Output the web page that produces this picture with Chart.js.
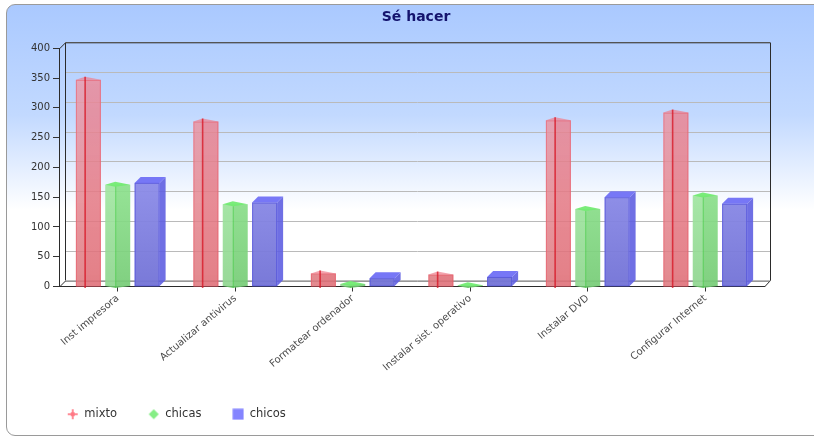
<!DOCTYPE html>
<html>
<head>
<meta charset="utf-8">
<script src="https://cdn.jsdelivr.net/npm/chart.js@4.4.1/dist/chart.umd.min.js"></script>
<style>
  html, body { margin: 0; padding: 0; background: #ffffff; overflow: hidden; }
  #wrap { position: relative; width: 814px; height: 437px; overflow: hidden; }
  #panel {
    position: absolute; left: 6px; top: 4px; width: 860px; height: 430px;
    border: 1px solid #9a9a9a; border-radius: 9px;
    background: linear-gradient(to bottom, #aac9ff 0px, #c2d9ff 110px, #ffffff 205px, #ffffff 100%);
  }
  canvas { position: absolute; left: 0; top: 0; }
</style>
</head>
<body>
<div id="wrap">
  <div id="panel"></div>
  <canvas id="chart" width="832" height="437"></canvas>
</div>
<script>
// Survey results: "Sé hacer" (things I know how to do)
const categories = [
  'Inst impresora',
  'Actualizar antivirus',
  'Formatear ordenador',
  'Instalar sist. operativo',
  'Instalar DVD',
  'Configurar Internet'
];
const mixto  = [347, 277, 22, 20, 279, 292];
const chicas = [171, 138, 4, 2, 130, 153];
const chicos = [174, 141, 14, 16, 150, 139];
const seriesNames = ['mixto', 'chicas', 'chicos'];
const yMin = 0, yMax = 400, yStep = 50;

// Styling
const DEPTH = 6;               // pseudo-3D depth offset in px
const FONT = 'DejaVu Sans';
const TITLE_SHIFT = 30;        // title is centred on the full panel width
const LEGEND_SHIFT = 28;       // legend indent from the left edge

// Small legend symbols drawn once onto offscreen canvases
function makeMarker(kind, color) {
  const c = document.createElement('canvas');
  c.width = 12; c.height = 12;
  const g = c.getContext('2d');
  g.fillStyle = color;
  if (kind === 'cross') {
    g.fillRect(1, 5, 10, 2);
    g.fillRect(5, 1, 2, 10);
    g.fillRect(4, 4, 4, 4);
  } else if (kind === 'diamond') {
    g.beginPath();
    g.moveTo(6, 1); g.lineTo(11, 6); g.lineTo(6, 11); g.lineTo(1, 6);
    g.closePath(); g.fill();
  } else {
    g.fillRect(0.5, 0.5, 11, 11);
  }
  return c;
}
const legendMarkers = [
  makeMarker('cross', 'rgba(255,120,132,0.85)'),
  makeMarker('diamond', 'rgb(134,238,134)'),
  makeMarker('square', 'rgb(132,132,255)')
];

function vGrad(top, bottom) {
  return (ctx) => {
    const area = ctx.chart.chartArea;
    if (!area) return bottom;
    const g = ctx.chart.ctx.createLinearGradient(0, area.top, 0, area.bottom);
    g.addColorStop(0, top);
    g.addColorStop(1, bottom);
    return g;
  };
}

// Shift title and legend horizontally after the layout pass
const placeBlocks = {
  id: 'placeBlocks',
  afterLayout(chart) {
    if (chart.titleBlock) { chart.titleBlock.left += TITLE_SHIFT; chart.titleBlock.right += TITLE_SHIFT; }
    if (chart.legend) { chart.legend.left += LEGEND_SHIFT; chart.legend.right += LEGEND_SHIFT; }
  }
};

// Back wall, floor edges and gridlines drawn behind the bars
const frame3d = {
  id: 'frame3d',
  beforeDatasetsDraw(chart) {
    const { ctx, chartArea: a, scales: { y } } = chart;
    const L = a.left, R = a.right, T = a.top, B = a.bottom, d = DEPTH;
    ctx.save();
    ctx.lineWidth = 1;
    ctx.strokeStyle = '#bababa';
    y.ticks.forEach(t => {
      const py = Math.round(y.getPixelForValue(t.value) - d) + 0.5;
      ctx.beginPath();
      ctx.moveTo(L + d, py);
      ctx.lineTo(R + d, py);
      ctx.stroke();
    });
    ctx.strokeStyle = '#2b2b2b';
    ctx.beginPath();
    ctx.moveTo(L + d + 0.5, B - d);
    ctx.lineTo(L + d + 0.5, T - d + 0.5);
    ctx.lineTo(R + d + 0.5, T - d + 0.5);
    ctx.lineTo(R + d + 0.5, B - d);
    ctx.lineTo(R + 0.5, B + 0.5);
    ctx.moveTo(L + 0.5, T + 0.5);
    ctx.lineTo(L + d + 0.5, T - d + 0.5);
    ctx.moveTo(L + 0.5, B + 0.5);
    ctx.lineTo(L + d + 0.5, B - d + 0.5);
    ctx.stroke();
    ctx.strokeStyle = '#777777';
    ctx.beginPath();
    ctx.moveTo(L + d, B - d + 0.5);
    ctx.lineTo(R + d, B - d + 0.5);
    ctx.stroke();
    ctx.restore();
  }
};

// Extra faces that give each bar its solid look
const barFaces = {
  id: 'barFaces',
  afterDatasetsDraw(chart) {
    const { ctx } = chart;
    const d = DEPTH;
    ctx.save();
    chart.data.datasets.forEach((ds, di) => {
      const meta = chart.getDatasetMeta(di);
      meta.data.forEach(el => {
        const { x, y, base, width } = el.getProps(['x', 'y', 'base', 'width'], true);
        const l = x - width / 2, r = x + width / 2;
        if (di === 0) {
          const m = l + width * 0.37;
          ctx.fillStyle = 'rgba(230,70,85,0.15)';
          ctx.fillRect(m, y, r - m, base - y);
          ctx.fillStyle = 'rgba(240,125,140,0.7)';
          ctx.beginPath();
          ctx.moveTo(l, y); ctx.lineTo(m, y - 3); ctx.lineTo(r, y); ctx.closePath();
          ctx.fill();
          ctx.strokeStyle = 'rgba(235,80,95,0.5)';
          ctx.lineWidth = 1;
          ctx.strokeRect(l + 0.5, y + 0.5, width - 1, base - y);
          ctx.strokeStyle = 'rgba(215,25,40,0.8)';
          ctx.lineWidth = 1.6;
          ctx.beginPath();
          ctx.moveTo(m, y - 3); ctx.lineTo(m, base + 2);
          ctx.stroke();
        } else if (di === 1) {
          const m = l + width * 0.4;
          ctx.fillStyle = 'rgba(255,255,255,0.18)';
          ctx.fillRect(l, y, m - l, base - y);
          ctx.fillStyle = 'rgba(115,235,115,0.95)';
          ctx.beginPath();
          ctx.moveTo(l, y); ctx.lineTo(m, y - 3); ctx.lineTo(r, y); ctx.lineTo(m, y + 2); ctx.closePath();
          ctx.fill();
          ctx.fillStyle = 'rgba(110,200,110,0.9)';
          ctx.beginPath();
          ctx.moveTo(l, base); ctx.lineTo(m, base + 2); ctx.lineTo(r, base); ctx.closePath();
          ctx.fill();
          ctx.strokeStyle = 'rgba(70,205,70,0.6)';
          ctx.lineWidth = 1;
          ctx.beginPath();
          ctx.moveTo(m + 0.5, y + 2); ctx.lineTo(m + 0.5, base + 2);
          ctx.stroke();
        } else {
          ctx.fillStyle = 'rgba(95,95,225,0.9)';
          ctx.beginPath();
          ctx.moveTo(r, y); ctx.lineTo(r + d, y - d); ctx.lineTo(r + d, base - d); ctx.lineTo(r, base); ctx.closePath();
          ctx.fill();
          ctx.fillStyle = 'rgba(112,112,245,0.95)';
          ctx.beginPath();
          ctx.moveTo(l, y); ctx.lineTo(l + d, y - d); ctx.lineTo(r + d, y - d); ctx.lineTo(r, y); ctx.closePath();
          ctx.fill();
          ctx.strokeStyle = 'rgba(80,80,220,0.7)';
          ctx.lineWidth = 1;
          ctx.strokeRect(l + 0.5, y + 0.5, width - 1, base - y - 0.5);
        }
      });
    });
    ctx.restore();
  }
};

const chart = new Chart(document.getElementById('chart'), {
  type: 'bar',
  data: {
    labels: categories,
    datasets: [
      { label: seriesNames[0], data: mixto,  backgroundColor: vGrad('rgba(238,160,176,0.82)', 'rgba(222,118,124,0.86)') },
      { label: seriesNames[1], data: chicas, backgroundColor: vGrad('rgba(170,252,170,0.92)', 'rgba(118,204,118,0.92)') },
      { label: seriesNames[2], data: chicos, backgroundColor: vGrad('rgba(172,172,255,0.95)', 'rgba(114,114,214,0.95)') }
    ]
  },
  options: {
    responsive: false,
    animation: false,
    categoryPercentage: 0.75,
    barPercentage: 0.85,
    borderWidth: 0,
    layout: { padding: { left: 8, right: 68, top: 0, bottom: 7 } },
    plugins: {
      title: {
        display: true,
        text: 'Sé hacer',
        color: '#14146e',
        font: { family: FONT, size: 14, weight: 'bold' },
        padding: { top: 9, bottom: 22.5 }
      },
      legend: {
        position: 'bottom',
        align: 'start',
        labels: {
          usePointStyle: true,
          color: '#333333',
          padding: 31,
          font: { family: FONT, size: 11.5 },
          generateLabels(c) {
            const items = Chart.defaults.plugins.legend.labels.generateLabels(c);
            items.forEach((it, i) => {
              it.pointStyle = legendMarkers[i];
              it.lineWidth = 0;
            });
            return items;
          }
        }
      },
      tooltip: { enabled: false }
    },
    scales: {
      x: {
        grid: { display: true, drawOnChartArea: false, offset: false, tickLength: 5, color: '#333333' },
        border: { display: true, color: '#2b2b2b' },
        ticks: {
          autoSkip: false, maxRotation: 40, minRotation: 40, padding: 1,
          color: '#4a4a4a', font: { family: FONT, size: 10 }
        },
        afterFit(scale) { scale.height = 91; }
      },
      y: {
        min: yMin, max: yMax,
        grid: { display: true, drawOnChartArea: false, tickLength: 6, color: '#333333' },
        border: { display: true, color: '#2b2b2b' },
        ticks: { stepSize: yStep, padding: 3, color: '#333333', font: { family: FONT, size: 10 } },
        afterFit(scale) { scale.width = 51; }
      }
    }
  },
  plugins: [placeBlocks, frame3d, barFaces]
});
</script>
</body>
</html>
